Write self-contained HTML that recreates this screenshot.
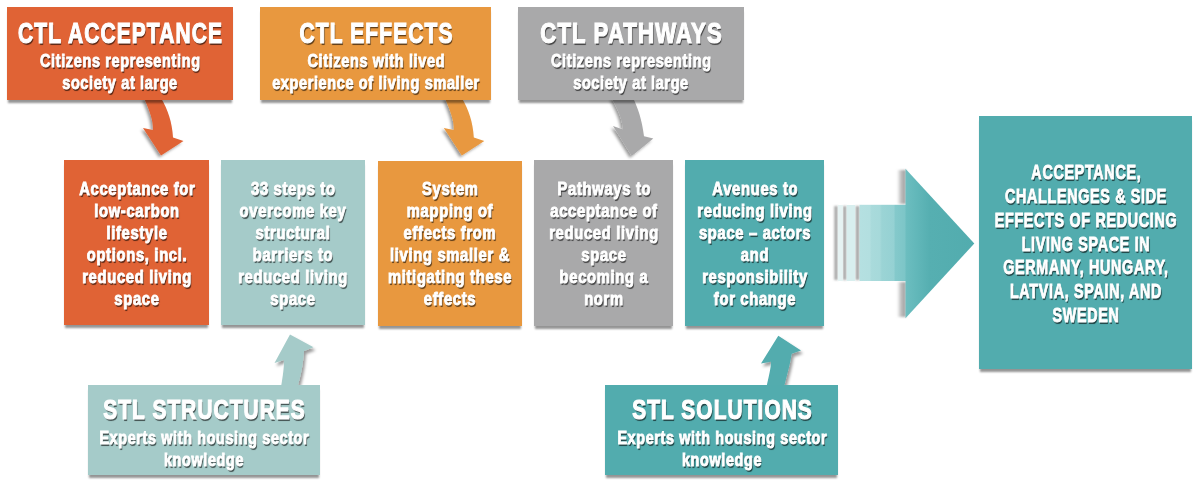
<!DOCTYPE html><html><head><meta charset="utf-8"><style>
html,body{margin:0;padding:0;background:#fff;}
body{width:1200px;height:487px;position:relative;overflow:hidden;font-family:"Liberation Sans",sans-serif;}
.bx{position:absolute;box-shadow:0 4px 2px -1px rgba(0,0,0,0.42);}
.t{position:absolute;text-align:center;color:#fff;font-weight:bold;white-space:nowrap;transform-origin:50% 0;
text-shadow:1.2px 1.5px 0.8px rgba(0,0,0,0.6);}
svg{position:absolute;left:0;top:0;}
</style></head><body>
<svg width="1200" height="487" viewBox="0 0 1200 487">
<defs>
<filter id="dsd" x="-50%" y="-50%" width="200%" height="200%"><feDropShadow dx="-2" dy="2" stdDeviation="1.5" flood-color="#000" flood-opacity="0.4"/></filter>
<filter id="dsu" x="-50%" y="-50%" width="200%" height="200%"><feDropShadow dx="2" dy="3" stdDeviation="1.5" flood-color="#000" flood-opacity="0.4"/></filter>
</defs>
<g filter="url(#dsd)">
<path fill="#E06335" d="M144,98 C150,112 153,120 153,130 L143,128 L161,155.5 L183.5,141 L173,137.5 C172,122 168,110 161,98 Z"/>
<path fill="#E8983F" transform="translate(300.8,0)" d="M144,98 C150,112 153,120 153,130 L143,128 L161,155.5 L183.5,141 L173,137.5 C172,122 168,110 161,98 Z"/>
<path fill="#A9A9AA" d="M611.5,98 C618,110 622,118 623,129.5 L613,126 L631.7,156 L653.3,138.5 L644,136.3 C642,120 638,108 633,98 Z"/>
</g>
<g filter="url(#dsu)">
<path fill="#A5CBC9" d="M281,387 C283,375 284,368 284,360 L274.5,363 L290,334.5 L313.5,347.3 L304,351 C303,365 301,375 297.5,387 Z"/>
<path fill="#52ACAE" d="M766.5,387 C769,375 771,368 771,361.7 L761,363.4 L778.3,335.8 L801,350.5 L791.7,353.8 C790,365 787,375 784,387 Z"/>
</g>
</svg>
<div class="bx" style="left:7px;top:7px;width:225.5px;height:93px;background:#E06335;"></div>
<div class="bx" style="left:260px;top:7px;width:231px;height:93px;background:#E8983F;"></div>
<div class="bx" style="left:518px;top:7px;width:226px;height:93px;background:#A9A9AA;"></div>
<div class="bx" style="left:64px;top:160px;width:145px;height:165px;background:#E06335;"></div>
<div class="bx" style="left:221px;top:160px;width:144px;height:165px;background:#A5CBC9;"></div>
<div class="bx" style="left:377.5px;top:160.5px;width:144.5px;height:165.5px;background:#E8983F;"></div>
<div class="bx" style="left:534px;top:160px;width:139px;height:165.5px;background:#A9A9AA;"></div>
<div class="bx" style="left:685px;top:160px;width:139px;height:166px;background:#52ACAE;"></div>
<div class="bx" style="left:979px;top:116px;width:213px;height:253px;background:#52ACAE;"></div>
<div class="bx" style="left:88px;top:385px;width:232px;height:90px;background:#A5CBC9;"></div>
<div class="bx" style="left:605px;top:384.5px;width:233px;height:90.5px;background:#52ACAE;"></div>
<svg width="1200" height="487" viewBox="0 0 1200 487">
<defs>
<filter id="bl" x="-100%" y="-10%" width="300%" height="120%"><feGaussianBlur stdDeviation="0.8"/></filter>
<linearGradient id="sg" x1="859.5" y1="0" x2="906" y2="0" gradientUnits="userSpaceOnUse">
<stop offset="0" stop-color="#b5e0e1"/><stop offset="0.22" stop-color="#b3dfe0"/><stop offset="0.26" stop-color="#a9dadb"/><stop offset="0.44" stop-color="#a6d9da"/><stop offset="0.48" stop-color="#9bd4d5"/><stop offset="0.74" stop-color="#95d1d3"/><stop offset="0.77" stop-color="#84c9cb"/><stop offset="1" stop-color="#7cc5c7"/></linearGradient>
<linearGradient id="tg" x1="905" y1="0" x2="975" y2="0" gradientUnits="userSpaceOnUse">
<stop offset="0" stop-color="#6dbec0"/><stop offset="0.15" stop-color="#63b8ba"/><stop offset="0.35" stop-color="#56afb1"/><stop offset="1" stop-color="#52acae"/></linearGradient>
<linearGradient id="gs" x1="897" y1="0" x2="906" y2="0" gradientUnits="userSpaceOnUse">
<stop offset="0" stop-color="#a8a8a8" stop-opacity="0"/><stop offset="0.5" stop-color="#a8a8a8" stop-opacity="0.8"/><stop offset="1" stop-color="#a0a0a0"/></linearGradient>
</defs>
<g filter="url(#bl)">
<rect x="834.3" y="206" width="3.5" height="74" fill="#a9a9a9"/>
<rect x="843" y="206" width="3.5" height="74" fill="#a9a9a9"/>
<rect x="855.5" y="206" width="4" height="74" fill="#a9a9a9"/>
<rect x="897" y="170" width="9" height="34" fill="url(#gs)"/>
<rect x="897" y="282" width="9" height="35" fill="url(#gs)"/>
</g>
<rect x="837.8" y="205" width="5.1" height="76" fill="#e6f3f3"/>
<rect x="846.6" y="205" width="8.6" height="76" fill="#d8eeee"/>
<rect x="859.5" y="204.8" width="46.5" height="76.2" fill="url(#sg)"/>
<path d="M905.5,168.7 L974.3,243.5 L905.5,318.3 Z" fill="url(#tg)"/>
</svg>
<div class="t" style="left:-80.50px;top:20.92px;width:400px;font-size:28.8px;line-height:24px;transform:scaleX(0.729);-webkit-text-stroke:1.2px #fff;letter-spacing:1.5px;text-indent:1.5px;">CTL ACCEPTANCE</div>
<div class="t" style="left:-80.50px;top:49.97px;width:400px;font-size:18.4px;line-height:21.7px;transform:scaleX(0.788);-webkit-text-stroke:0.9px #fff;letter-spacing:0.8px;text-indent:0.8px;">Citizens representing<br>society at large</div>
<div class="t" style="left:175.50px;top:20.92px;width:400px;font-size:28.8px;line-height:24px;transform:scaleX(0.729);-webkit-text-stroke:1.2px #fff;letter-spacing:1.5px;text-indent:1.5px;">CTL EFFECTS</div>
<div class="t" style="left:175.50px;top:49.97px;width:400px;font-size:18.4px;line-height:21.7px;transform:scaleX(0.788);-webkit-text-stroke:0.9px #fff;letter-spacing:0.8px;text-indent:0.8px;">Citizens with lived<br>experience of living smaller</div>
<div class="t" style="left:431.00px;top:20.92px;width:400px;font-size:28.8px;line-height:24px;transform:scaleX(0.768);-webkit-text-stroke:1.2px #fff;letter-spacing:1.5px;text-indent:1.5px;">CTL PATHWAYS</div>
<div class="t" style="left:431.00px;top:49.97px;width:400px;font-size:18.4px;line-height:21.7px;transform:scaleX(0.788);-webkit-text-stroke:0.9px #fff;letter-spacing:0.8px;text-indent:0.8px;">Citizens representing<br>society at large</div>
<div class="t" style="left:-63.50px;top:178.99px;width:400px;font-size:17.5px;line-height:21.9px;transform:scaleX(0.845);-webkit-text-stroke:0.9px #fff;letter-spacing:0.8px;text-indent:0.8px;">Acceptance for<br>low-carbon<br>lifestyle<br>options, incl.<br>reduced living<br>space</div>
<div class="t" style="left:93.00px;top:178.99px;width:400px;font-size:17.5px;line-height:21.9px;transform:scaleX(0.845);-webkit-text-stroke:0.9px #fff;letter-spacing:0.8px;text-indent:0.8px;">33 steps to<br>overcome key<br>structural<br>barriers to<br>reduced living<br>space</div>
<div class="t" style="left:249.75px;top:178.99px;width:400px;font-size:17.5px;line-height:21.9px;transform:scaleX(0.845);-webkit-text-stroke:0.9px #fff;letter-spacing:0.8px;text-indent:0.8px;">System<br>mapping of<br>effects from<br>living smaller &amp;<br>mitigating these<br>effects</div>
<div class="t" style="left:403.50px;top:178.99px;width:400px;font-size:17.5px;line-height:21.9px;transform:scaleX(0.845);-webkit-text-stroke:0.9px #fff;letter-spacing:0.8px;text-indent:0.8px;">Pathways to<br>acceptance of<br>reduced living<br>space<br>becoming a<br>norm</div>
<div class="t" style="left:554.50px;top:178.99px;width:400px;font-size:17.5px;line-height:21.9px;transform:scaleX(0.845);-webkit-text-stroke:0.9px #fff;letter-spacing:0.8px;text-indent:0.8px;">Avenues to<br>reducing living<br>space – actors<br>and<br>responsibility<br>for change</div>
<div class="t" style="left:885.50px;top:160.82px;width:400px;font-size:20.3px;line-height:23.9px;transform:scaleX(0.705);-webkit-text-stroke:0.9px #fff;letter-spacing:1.0px;text-indent:1.0px;">ACCEPTANCE,<br>CHALLENGES &amp; SIDE<br>EFFECTS OF REDUCING<br>LIVING SPACE IN<br>GERMANY, HUNGARY,<br>LATVIA, SPAIN, AND<br>SWEDEN</div>
<div class="t" style="left:4.00px;top:397.94px;width:400px;font-size:27px;line-height:24px;transform:scaleX(0.773);-webkit-text-stroke:1.2px #fff;letter-spacing:1.4px;text-indent:1.4px;">STL STRUCTURES</div>
<div class="t" style="left:4.00px;top:427.94px;width:400px;font-size:17.5px;line-height:21.6px;transform:scaleX(0.82);-webkit-text-stroke:0.9px #fff;letter-spacing:0.8px;text-indent:0.8px;">Experts with housing sector<br>knowledge</div>
<div class="t" style="left:521.50px;top:397.94px;width:400px;font-size:27px;line-height:24px;transform:scaleX(0.773);-webkit-text-stroke:1.2px #fff;letter-spacing:1.4px;text-indent:1.4px;">STL SOLUTIONS</div>
<div class="t" style="left:521.50px;top:427.94px;width:400px;font-size:17.5px;line-height:21.6px;transform:scaleX(0.82);-webkit-text-stroke:0.9px #fff;letter-spacing:0.8px;text-indent:0.8px;">Experts with housing sector<br>knowledge</div>
</body></html>
